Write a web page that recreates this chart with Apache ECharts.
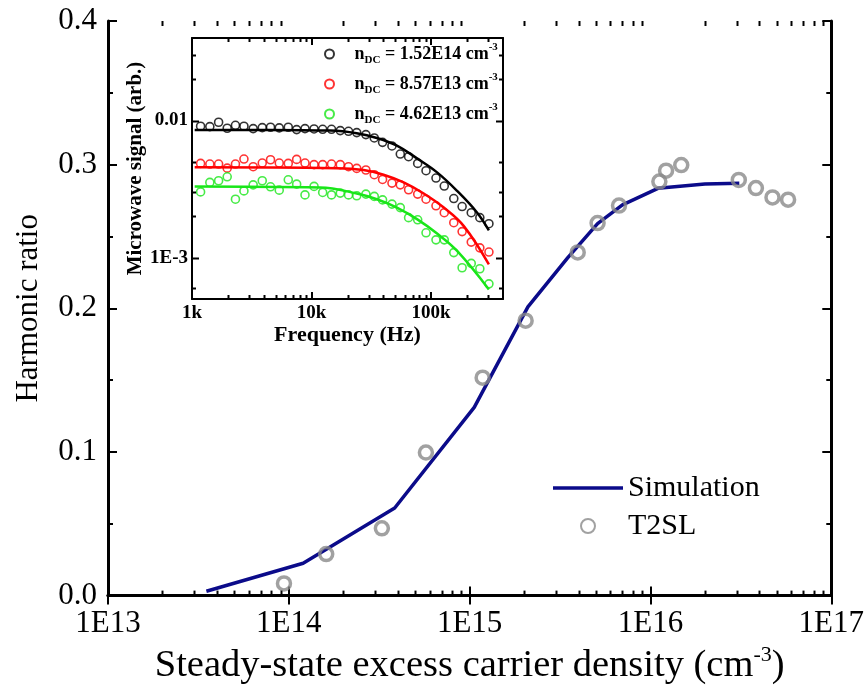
<!DOCTYPE html>
<html><head><meta charset="utf-8">
<script src="https://cdn.jsdelivr.net/npm/echarts@6/dist/echarts.min.js"></script>
<style>html,body{margin:0;padding:0;background:#fff}#c{width:867px;height:690px}</style>
</head><body><div id="c"></div>
<script>
// ---------- main chart data ----------
const mainXTickLabels = ['1E13', '1E14', '1E15', '1E16', '1E17'];
const mainYTickLabels = ['0.0', '0.1', '0.2', '0.3', '0.4'];
const simX = [3.5e13, 1.2e14, 3.85e14, 1.06e15, 2.1e15, 3.5e15, 5.1e15, 7e15, 1.1e16, 2e16, 3.1e16];
const simY = [0.003, 0.0225, 0.061, 0.131, 0.201, 0.2355, 0.259, 0.272, 0.2835, 0.2865, 0.287];
const t2slX = [9.4e13, 1.61e14, 3.27e14, 5.73e14, 1.18e15, 2.04e15, 3.96e15, 5.1e15, 6.7e15, 1.12e16, 1.22e16, 1.48e16, 3.08e16, 3.83e16, 4.73e16, 5.77e16];
const t2slY = [0.0085, 0.0289, 0.0468, 0.0996, 0.1517, 0.1914, 0.2389, 0.2593, 0.2715, 0.2882, 0.2958, 0.2997, 0.2894, 0.2837, 0.2772, 0.2756];

// ---------- inset data ----------
const insetXTickLabels = {3: '1k', 4: '10k', 5: '100k'};
const insetYTickLabels = {'-2': '0.01', '-3': '1E-3'};
const insetYMinorTicks = [0.03, 0.02, 0.005, 0.003, 0.002, 0.0006];
const freq = [1180, 1410, 1670, 1970, 2310, 2720, 3250, 3870, 4540, 5370, 6390, 7510, 8820, 10500, 12400, 14700, 17400, 20400, 23900, 28500, 33500, 39300, 47100, 55300, 64900, 77300, 90800, 110000, 129000, 155000, 182000, 217000, 256000, 305000];
const sigHigh = [0.00909, 0.00904, 0.00972, 0.00879, 0.00924, 0.00909, 0.00874, 0.00889, 0.00894, 0.00884, 0.00894, 0.00859, 0.00874, 0.00869, 0.00864, 0.00864, 0.00845, 0.00835, 0.00817, 0.00790, 0.00747, 0.00694, 0.00653, 0.00570, 0.00545, 0.00487, 0.00431, 0.00381, 0.00333, 0.00270, 0.00236, 0.00213, 0.00196, 0.00177];
const sigMid = [0.00487, 0.00482, 0.00482, 0.00450, 0.00482, 0.00524, 0.00461, 0.00490, 0.00518, 0.00490, 0.00487, 0.00521, 0.00490, 0.00477, 0.00477, 0.00482, 0.00477, 0.00461, 0.00448, 0.00436, 0.00403, 0.00372, 0.00350, 0.00340, 0.00313, 0.00291, 0.00267, 0.00239, 0.00213, 0.00180, 0.00155, 0.00130, 0.00118, 0.00110];
const sigLow = [0.00302, 0.00354, 0.00364, 0.00389, 0.00267, 0.00307, 0.00340, 0.00364, 0.00329, 0.00311, 0.00370, 0.00344, 0.00287, 0.00331, 0.00299, 0.00287, 0.00296, 0.00287, 0.00283, 0.00291, 0.00280, 0.00264, 0.00246, 0.00232, 0.00196, 0.00189, 0.00152, 0.00135, 0.00135, 0.00109, 0.000845, 0.000909, 0.000831, 0.000645];
const fitHighX = [1053, 4484, 14300, 23900, 35200, 51830, 76300, 112300, 165300, 243200, 304700];
const fitHighY = [0.00855, 0.00855, 0.00845, 0.00808, 0.00747, 0.00657, 0.00530, 0.00419, 0.00307, 0.00213, 0.00158];
const fitMidX = [1053, 16260, 27230, 40060, 58970, 86800, 127800, 188000, 304700];
const fitMidY = [0.00456, 0.00450, 0.00436, 0.00403, 0.00354, 0.00294, 0.00232, 0.00170, 0.000894];
const fitLowX = [1053, 11780, 23900, 35200, 51830, 76300, 112300, 165300, 304700];
const fitLowY = [0.00331, 0.00325, 0.00294, 0.00267, 0.00232, 0.00191, 0.00150, 0.00112, 0.000587];
const legendLabels = ['1.52E14', '8.57E13', '4.62E13'];

const zip = (a, b) => a.map((v, i) => [v, b[i]]);
const SERIF = 'Liberation Serif';

// minor tick positions (axis decoration)
const mainMinorX = [];
for (let e = 13; e < 17; e++) for (let k = 2; k <= 9; k++) mainMinorX.push([k * Math.pow(10, e), 0.2]);
const insetMinorX = [];
for (let e = 3; e < 6; e++) for (let k = 2; k <= 9; k++) { const v = k * Math.pow(10, e); if (v < 4e5) insetMinorX.push([v, 0.005]); }
const insetMinorY = insetYMinorTicks.map(v => [3000, v]);
const insetMajorY = [[3000, 0.01], [3000, 0.001]];

function xMinorRender(len) {
  return function (params, api) {
    const p = api.coord([api.value(0), api.value(1)]);
    const cs = params.coordSys;
    const x = Math.round(p[0]) + 0.5;
    return {type: 'group', children: [
      {type: 'line', shape: {x1: x, y1: cs.y + cs.height, x2: x, y2: cs.y + cs.height - len}, style: {stroke: '#000', lineWidth: 2}},
      {type: 'line', shape: {x1: x, y1: cs.y, x2: x, y2: cs.y + len}, style: {stroke: '#000', lineWidth: 2}}
    ]};
  };
}
function yMinorRender(len) {
  return function (params, api) {
    const p = api.coord([api.value(0), api.value(1)]);
    const cs = params.coordSys;
    const y = Math.round(p[1]) + 0.5;
    return {type: 'group', children: [
      {type: 'line', shape: {x1: cs.x, y1: y, x2: cs.x + len, y2: y}, style: {stroke: '#000', lineWidth: 2}},
      {type: 'line', shape: {x1: cs.x + cs.width, y1: y, x2: cs.x + cs.width - len, y2: y}, style: {stroke: '#000', lineWidth: 2}}
    ]};
  };
}
function decade(v) {
  const e = Math.log10(v); const r = Math.round(e);
  return Math.abs(e - r) < 1e-6 ? r : null;
}

const mainAxisLine = {show: true, lineStyle: {color: '#000', width: 3}};
const mainTick = {show: true, inside: true, length: 9, lineStyle: {color: '#000', width: 2}};
const insetAxisLine = {show: true, lineStyle: {color: '#000', width: 2}};
const insetTick = {show: true, inside: true, length: 7, lineStyle: {color: '#000', width: 2}};

const option = {
  animation: false,
  backgroundColor: '#fff',
  grid: [
    {left: 108, top: 21, width: 726, height: 581, containLabel: false},
    {left: 192, top: 38, width: 311, height: 261, containLabel: false, show: true, backgroundColor: '#fff', borderWidth: 0, z: 5}
  ],
  xAxis: [
    {type: 'log', logBase: 10, gridIndex: 0, min: 1e13, max: 1e17, interval: 1, position: 'bottom',
     axisLine: mainAxisLine, axisTick: mainTick, splitLine: {show: false},
     axisLabel: {fontFamily: SERIF, fontSize: 31, color: '#000', margin: 13,
       formatter: v => { const d = decade(v); return d === null ? '' : (mainXTickLabels[d - 13] || ''); }},
     name: '{a|Steady-state excess carrier density (cm}{s|-3}{a|)}', nameLocation: 'middle', nameGap: 44,
     nameTextStyle: {rich: {a: {fontFamily: SERIF, fontSize: 38.5, color: '#000', lineHeight: 42},
                            s: {fontFamily: SERIF, fontSize: 22, color: '#000', verticalAlign: 'top', lineHeight: 42}}}},
    {type: 'log', logBase: 10, gridIndex: 0, min: 1e13, max: 1e17, interval: 1, position: 'top',
     axisLine: mainAxisLine, axisTick: mainTick, axisLabel: {show: false}, splitLine: {show: false}},
    {type: 'log', logBase: 10, gridIndex: 1, min: 1000, max: 4e5, interval: 1, position: 'bottom', z: 6,
     axisLine: insetAxisLine, axisTick: insetTick, splitLine: {show: false},
     axisLabel: {fontFamily: SERIF, fontWeight: 'bold', fontSize: 19, color: '#000', margin: 5,
       formatter: v => { const d = decade(v); return d === null ? '' : (insetXTickLabels[d] || ''); }},
     name: 'Frequency (Hz)', nameLocation: 'middle', nameGap: 23,
     nameTextStyle: {fontFamily: SERIF, fontWeight: 'bold', fontSize: 22, color: '#000'}},
    {type: 'log', logBase: 10, gridIndex: 1, min: 1000, max: 4e5, interval: 1, position: 'top', z: 6,
     axisLine: insetAxisLine, axisTick: insetTick, axisLabel: {show: false}, splitLine: {show: false}}
  ],
  yAxis: [
    {type: 'value', gridIndex: 0, min: 0, max: 0.4, interval: 0.1, position: 'left',
     axisLine: mainAxisLine, axisTick: mainTick, splitLine: {show: false},
     minorTick: {show: true, splitNumber: 2, length: 5, lineStyle: {color: '#000', width: 2}},
     axisLabel: {fontFamily: SERIF, fontSize: 31, color: '#000', margin: 11,
       formatter: v => mainYTickLabels[Math.round(v * 10)]},
     name: 'Harmonic ratio', nameLocation: 'middle', nameGap: 64,
     nameTextStyle: {fontFamily: SERIF, fontSize: 31, color: '#000'}},
    {type: 'value', gridIndex: 0, min: 0, max: 0.4, interval: 0.1, position: 'right',
     axisLine: mainAxisLine, axisTick: mainTick, axisLabel: {show: false}, splitLine: {show: false},
     minorTick: {show: true, splitNumber: 2, length: 5, lineStyle: {color: '#000', width: 2}}},
    {type: 'log', logBase: 10, gridIndex: 1, min: 5e-4, max: 0.04, splitNumber: 2, position: 'left', z: 6,
     axisLine: insetAxisLine, axisTick: {show: false}, splitLine: {show: false},
     axisLabel: {fontFamily: SERIF, fontWeight: 'bold', fontSize: 19, color: '#000', margin: 4,
       formatter: v => { const d = decade(v); return d === null ? '' : (insetYTickLabels[String(d)] || ''); }},
     name: 'Microwave signal (arb.)', nameLocation: 'middle', nameGap: 42,
     nameTextStyle: {fontFamily: SERIF, fontWeight: 'bold', fontSize: 21, color: '#000'}},
    {type: 'log', logBase: 10, gridIndex: 1, min: 5e-4, max: 0.04, splitNumber: 2, position: 'right', z: 6,
     axisLine: insetAxisLine, axisTick: {show: false}, axisLabel: {show: false}, splitLine: {show: false}}
  ],
  legend: [
    {data: [{name: 'Simulation', icon: 'path://M0,0H20V1H0Z'}, 'T2SL'], orient: 'vertical', left: 548, top: 468,
     itemWidth: 70, itemHeight: 14, itemGap: 8,
     selectedMode: false, textStyle: {fontFamily: SERIF, fontSize: 30, color: '#000'}},
    {data: ['nHigh', 'nMid', 'nLow'], orient: 'vertical', left: 319, top: 37, itemWidth: 40, itemHeight: 9, itemGap: 6,
     selectedMode: false, z: 10,
     formatter: name => {
       const idx = {nHigh: 0, nMid: 1, nLow: 2}[name];
       return '{b|n}{s|DC}{b| = ' + legendLabels[idx] + ' cm}{p|-3}';
     },
     textStyle: {rich: {
       b: {fontFamily: SERIF, fontWeight: 'bold', fontSize: 18, color: '#000', lineHeight: 24},
       s: {fontFamily: SERIF, fontWeight: 'bold', fontSize: 11, color: '#000', lineHeight: 24, verticalAlign: 'bottom'},
       p: {fontFamily: SERIF, fontWeight: 'bold', fontSize: 11, color: '#000', lineHeight: 24, verticalAlign: 'top'}
     }}}
  ],
  series: [
    {name: 'Simulation', type: 'line', xAxisIndex: 0, yAxisIndex: 0, data: zip(simX, simY), symbol: 'none',
     lineStyle: {color: '#0b0b8a', width: 3.5}, itemStyle: {color: '#0b0b8a'}, z: 2},
    {name: 'T2SL', type: 'scatter', xAxisIndex: 0, yAxisIndex: 0, data: zip(t2slX, t2slY), symbol: 'circle', symbolSize: 13,
     itemStyle: {color: 'rgba(0,0,0,0)', borderColor: '#8a8a8a', borderWidth: 3.5}, z: 3},
    {type: 'custom', xAxisIndex: 0, yAxisIndex: 0, data: mainMinorX, renderItem: xMinorRender(5), silent: true, z: 4},

    {name: 'fitHigh', type: 'line', xAxisIndex: 2, yAxisIndex: 2, data: zip(fitHighX, fitHighY), symbol: 'none', smooth: 0.4,
     lineStyle: {color: '#000', width: 2.5}, z: 7},
    {name: 'fitMid', type: 'line', xAxisIndex: 2, yAxisIndex: 2, data: zip(fitMidX, fitMidY), symbol: 'none', smooth: 0.4,
     lineStyle: {color: '#ff0000', width: 2.5}, z: 7},
    {name: 'fitLow', type: 'line', xAxisIndex: 2, yAxisIndex: 2, data: zip(fitLowX, fitLowY), symbol: 'none', smooth: 0.4,
     lineStyle: {color: '#19e619', width: 2.5}, z: 7},
    {name: 'nHigh', type: 'scatter', xAxisIndex: 2, yAxisIndex: 2, data: zip(freq, sigHigh), symbol: 'circle', symbolSize: 8,
     itemStyle: {color: 'rgba(0,0,0,0)', borderColor: '#000', borderWidth: 1.6}, z: 8},
    {name: 'nMid', type: 'scatter', xAxisIndex: 2, yAxisIndex: 2, data: zip(freq, sigMid), symbol: 'circle', symbolSize: 8,
     itemStyle: {color: 'rgba(0,0,0,0)', borderColor: '#ff0000', borderWidth: 1.6}, z: 8},
    {name: 'nLow', type: 'scatter', xAxisIndex: 2, yAxisIndex: 2, data: zip(freq, sigLow), symbol: 'circle', symbolSize: 8,
     itemStyle: {color: 'rgba(0,0,0,0)', borderColor: '#19e619', borderWidth: 1.6}, z: 8},
    {type: 'custom', xAxisIndex: 2, yAxisIndex: 2, data: insetMinorX, renderItem: xMinorRender(4), silent: true, z: 9},
    {type: 'custom', xAxisIndex: 2, yAxisIndex: 2, data: insetMinorY, renderItem: yMinorRender(4), silent: true, z: 9},
    {type: 'custom', xAxisIndex: 2, yAxisIndex: 2, data: insetMajorY, renderItem: yMinorRender(7), silent: true, z: 9}
  ]
};
const chart = echarts.init(document.getElementById('c'), null, {renderer: 'canvas'});
chart.setOption(option);
</script>
</body></html>
